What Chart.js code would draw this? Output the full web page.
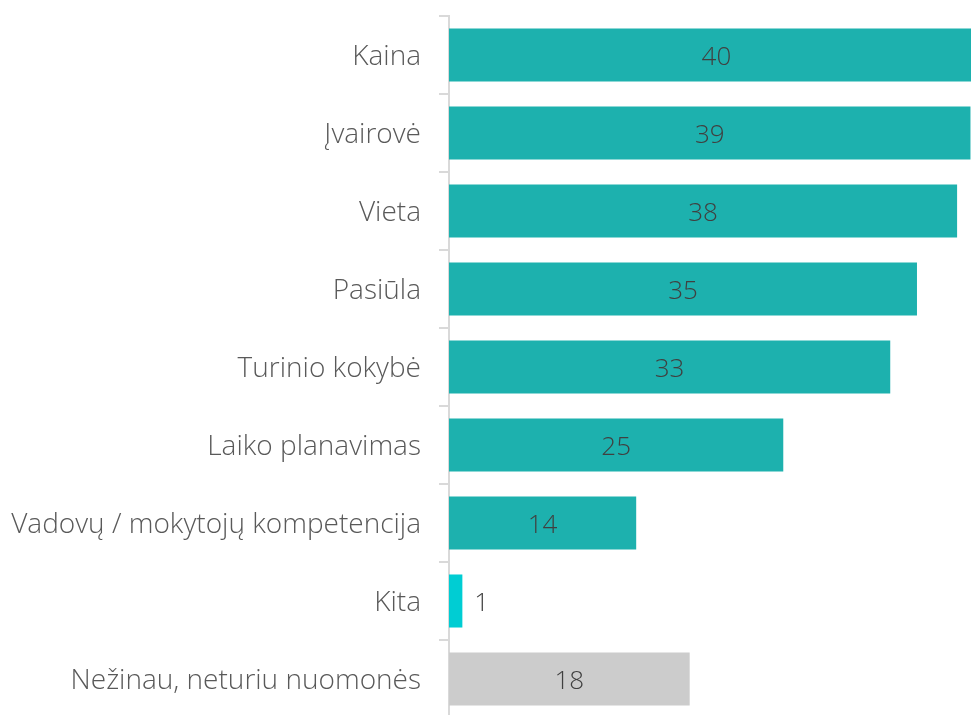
<!DOCTYPE html>
<html>
<head>
<meta charset="utf-8">
<script src="https://cdn.jsdelivr.net/npm/chart.js@4"></script>
<style>
  html, body { margin: 0; padding: 0; background: #fff; overflow: hidden; }
  #wrap { width: 971px; height: 718px; }
</style>
</head>
<body>
<div id="wrap"><canvas id="reasonsChart"></canvas></div>
<script>
// categories and values
const categories = ['Kaina', 'Įvairovė', 'Vieta', 'Pasiūla', 'Turinio kokybė', 'Laiko planavimas',
    'Vadovų / mokytojų kompetencija', 'Kita', 'Nežinau, neturiu nuomonės'];
const counts = [40, 39, 38, 35, 33, 25, 14, 1, 18];
const barColors = ['#1db1ae', '#1db1ae', '#1db1ae', '#1db1ae', '#1db1ae', '#1db1ae', '#1db1ae', '#00cdd3', '#cccccc'];

const FONT = "'Open Sans', 'Segoe UI', sans-serif";

// simple value labels (no datalabels plugin available offline)
const valueLabels = {
    id: 'valueLabels',
    afterDatasetsDraw(chart) {
        const ctx = chart.ctx;
        const meta = chart.getDatasetMeta(0);
        ctx.save();
        ctx.font = '300 26px ' + FONT;
        ctx.fillStyle = '#404040';
        ctx.textBaseline = 'middle';
        meta.data.forEach((bar, i) => {
            const w = bar.x - bar.base;
            if (w < 40) {
                ctx.textAlign = 'left';
                ctx.fillText(counts[i], bar.x + 12, bar.y + 3);
            } else {
                ctx.textAlign = 'center';
                ctx.fillText(counts[i], (bar.x + bar.base) / 2, bar.y + 3);
            }
        });
        ctx.restore();
    }
};

const ctx = document.getElementById('reasonsChart').getContext('2d');
const reasonsChart = new Chart(ctx, {
    type: 'bar',
    data: {
        labels: categories,
        datasets: [{
            data: counts,
            backgroundColor: barColors,
            borderWidth: 0,
            categoryPercentage: 1,
            barPercentage: 0.68
        }]
    },
    options: {
        indexAxis: 'y',
        responsive: true,
        maintainAspectRatio: false,
        animation: false,
        layout: { padding: { top: 16, right: 0, bottom: 0, left: 0 } },
        plugins: {
            legend: { display: false },
            tooltip: { enabled: false }
        },
        scales: {
            x: {
                display: false,
                min: 0,
                max: 39.04
            },
            y: {
                afterFit: s => {
                    s.width = 449;
                    s.paddingTop = 0;
                    s.paddingBottom = 0;
                },
                border: { display: true, color: '#d9d9d9', width: 2 },
                grid: {
                    drawOnChartArea: false,
                    drawTicks: true,
                    tickLength: 10,
                    color: '#d9d9d9',
                    lineWidth: 2,
                    offset: true
                },
                ticks: {
                    color: '#595959',
                    padding: 18,
                    labelOffset: 2,
                    font: { family: FONT, size: 28, weight: 300, lineHeight: 1.05 }
                }
            }
        }
    },
    plugins: [valueLabels]
});
</script>
</body>
</html>
